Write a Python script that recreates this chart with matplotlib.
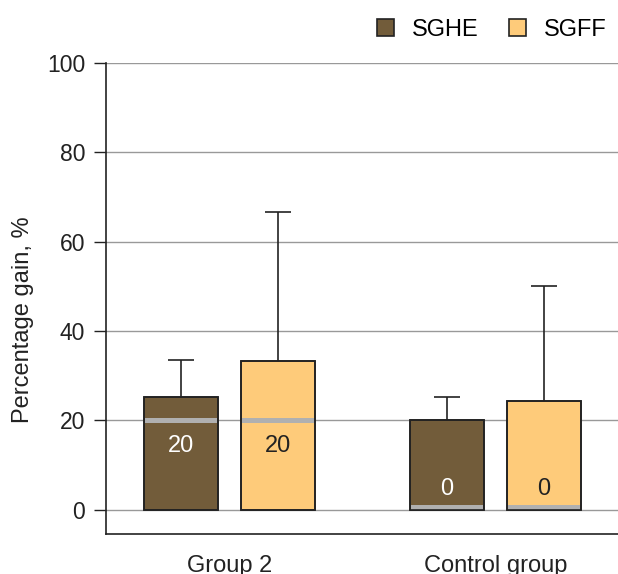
import numpy as np
import matplotlib.pyplot as plt
from matplotlib.patches import Patch

plt.rcParams['font.family'] = ['Liberation Sans', 'DejaVu Sans']

groups = ['Group 2', 'Control group']
series = ['SGHE', 'SGFF']
colors = ['#725c3a', '#fecb7a']
text_colors = ['white', '#222222']

# upper quartile (bar top), maximum (whisker) and median per series
q3 = {'SGHE': [25.3, 20.0], 'SGFF': [33.3, 24.4]}
maxv = {'SGHE': [33.6, 25.3], 'SGFF': [66.7, 50.0]}
median = {'SGHE': [20, 0], 'SGFF': [20, 0]}

x = np.arange(len(groups))
w = 0.278
offs = [-0.182, 0.182]
fs = 17

fig = plt.figure(figsize=(6.18, 5.74), dpi=100)
ax = fig.add_axes([106/618, 40/574, 1 - 106/618, (534-63)/574])

for i, s in enumerate(series):
    xs = x + offs[i]
    # whiskers first so the bar covers the lower end
    ax.vlines(xs, q3[s], maxv[s], color='#222222', lw=1.2, zorder=2)
    ax.hlines(maxv[s], xs - 0.05, xs + 0.05, color='#222222', lw=1.2, zorder=2)
    ax.bar(xs, q3[s], width=w, color=colors[i], edgecolor='#222222', lw=1.2, zorder=3)
    for xi, m in zip(xs, median[s]):
        lo = max(m - 0.6, 0)
        ax.bar(xi, 1.2, bottom=lo, width=w - 0.006, color='#b0b0b0', lw=0, zorder=4)
        ax.text(xi, max(m - 5.6, 4.7), str(m), ha='center', va='center',
                fontsize=fs, color=text_colors[i], zorder=5)
    # redraw outline over the median band
    ax.bar(xs, q3[s], width=w, fill=False, edgecolor='#222222', lw=1.2, zorder=6)

ax.set_xlim(-0.464, 1.46)
ax.set_ylim(-5.4, 100)
ax.set_yticks([0, 20, 40, 60, 80, 100])
ax.yaxis.grid(True, color='#999999', lw=1.0, zorder=0)
ax.set_axisbelow(True)
ax.set_xticks(x)
ax.set_xticklabels(groups)
ax.tick_params(axis='x', length=0, pad=15, labelsize=fs, colors='#222222')
ax.tick_params(axis='y', length=9, width=1, pad=6, labelsize=16.5, colors='#222222')
ax.spines['top'].set_visible(False)
ax.spines['right'].set_visible(False)
for sp in ['left', 'bottom']:
    ax.spines[sp].set_color('#222222')
    ax.spines[sp].set_linewidth(1.2)
ax.set_ylabel('Percentage gain, %', fontsize=fs, color='#222222')
ax.yaxis.set_label_coords(-0.141, 0.456)

handles = [Patch(facecolor=c, edgecolor='#222222', lw=1.2) for c in colors]
fig.legend(handles, series, loc='upper right', bbox_to_anchor=(1.0, 1 - 7/574), ncol=2,
           frameon=False, fontsize=fs, handlelength=0.72, handleheight=0.72,
           columnspacing=1.27, handletextpad=0.76, borderaxespad=0.1, borderpad=0.4)

fig.savefig('out.png', dpi=100)
